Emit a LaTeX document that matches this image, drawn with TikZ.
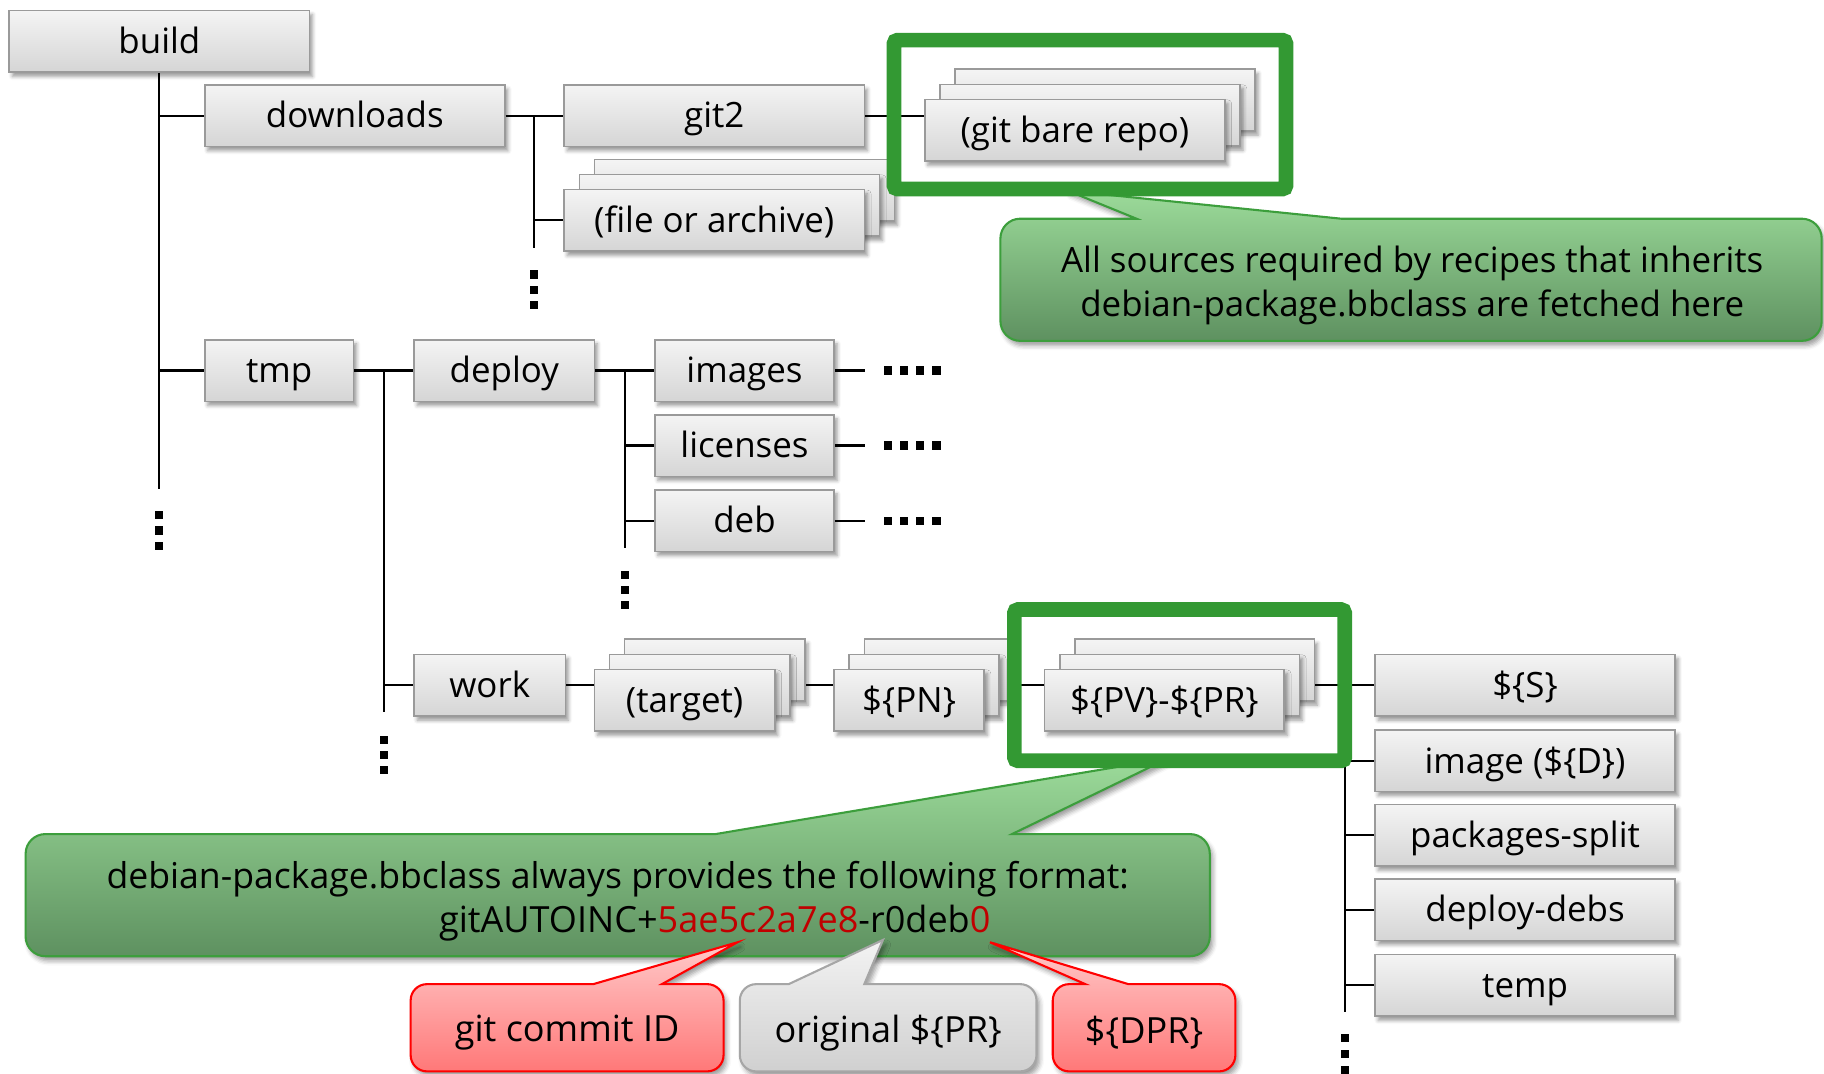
\documentclass[tikz,border=0pt]{standalone}
\usepackage{fontspec}
\setmainfont{Open Sans}
\usetikzlibrary{shadows.blur}

\definecolor{boxtop}{HTML}{F4F4F4}
\definecolor{boxbot}{HTML}{D5D5D5}
\definecolor{boxedge}{HTML}{9A9A9A}
\definecolor{framegreen}{HTML}{339933}
\definecolor{calltop}{HTML}{9CDB9A}
\definecolor{callbot}{HTML}{5E9160}
\definecolor{calledge}{HTML}{3C9E3C}
\definecolor{redtop}{HTML}{FFCACA}
\definecolor{redbot}{HTML}{FF7878}
\definecolor{rededge}{HTML}{FF0000}
\definecolor{graytop}{HTML}{F3F3F3}
\definecolor{graybot}{HTML}{D0D0D0}
\definecolor{grayedge}{HTML}{A6A6A6}
\definecolor{hexred}{HTML}{C00000}

% Rounded speech bubble with its pointer on the top edge:
% #1,#2 top-left, #3,#4 bottom-right, #5 corner radius,
% #6,#7 pointer base on the top edge, #8,#9 pointer tip.
\newcommand{\bubblepath}[9]{%
  (#6,#2) -- (#8,#9) -- (#7,#2) -- ({#3-#5},#2)
  arc[start angle=90,end angle=0,radius=#5*0.5pt] -- (#3,{#4-#5})
  arc[start angle=0,end angle=-90,radius=#5*0.5pt] -- ({#1+#5},#4)
  arc[start angle=-90,end angle=-180,radius=#5*0.5pt] -- (#1,{#2+#5})
  arc[start angle=180,end angle=90,radius=#5*0.5pt] -- cycle}

\newcommand{\dotsquare}[2]{\fill ({#1-3.5},{#2-3.5}) rectangle ({#1+3.5},{#2+3.5});}

\begin{document}
\begin{tikzpicture}[x=0.5pt,y=-0.5pt,
  dirbox/.style={draw=boxedge, line width=0.7pt, top color=boxtop, bottom color=boxbot,
    minimum height=26.5pt, inner sep=0pt, text height=14pt, text depth=3.5pt,
    font=\fontsize{15}{18}\selectfont,
    blur shadow={shadow xshift=1.3pt, shadow yshift=-1.8pt, shadow blur radius=1.6pt, shadow opacity=40}},
  link/.style={line width=0.9pt, black},
  frame/.style={draw=framegreen, line width=6.3pt, rounded corners=1.5pt},
  bubble/.style={line width=0.9pt,
    blur shadow={shadow xshift=1.3pt, shadow yshift=-2pt, shadow blur radius=2pt, shadow opacity=40}},
  greencall/.style={bubble, draw=calledge, top color=calltop, bottom color=callbot},
  redcall/.style={bubble, draw=rededge, top color=redtop, bottom color=redbot},
  graycall/.style={bubble, draw=grayedge, top color=graytop, bottom color=graybot},
  note/.style={font=\fontsize{15}{19}\selectfont, align=center, inner sep=0pt},
]
\useasboundingbox (0,0) rectangle (1568,923);

% ---- directory boxes ----
\node[dirbox, minimum width=129pt] (build) at (137,35.5) {build};
\node[dirbox, minimum width=129pt] (downloads) at (305,99.5) {downloads};
\node[dirbox, minimum width=129pt] (git2) at (614,99.5) {git2};
\node[dirbox, minimum width=129pt] (file3) at (640,163.5) {};
\node[dirbox, minimum width=129pt] (file2) at (627,176.5) {};
\node[dirbox, minimum width=129pt] (file) at (614,189.5) {(file or archive)};
\node[dirbox, minimum width=129pt] (bare3) at (950,86) {};
\node[dirbox, minimum width=129pt] (bare2) at (937,99) {};
\node[dirbox, minimum width=129pt] (bare) at (924,112) {(git bare repo)};

\node[dirbox, minimum width=64pt] (tmp) at (240,318.5) {tmp};
\node[dirbox, minimum width=77.5pt] (deploy) at (433.5,318.5) {deploy};
\node[dirbox, minimum width=77pt] (images) at (640,318.5) {images};
\node[dirbox, minimum width=77pt] (licenses) at (640,383) {licenses};
\node[dirbox, minimum width=77pt] (deb) at (640,447.5) {deb};

\node[dirbox, minimum width=65pt] (work) at (421,589) {work};
\node[dirbox, minimum width=77.5pt] (target3) at (614.5,576) {};
\node[dirbox, minimum width=77.5pt] (target2) at (601.5,589) {};
\node[dirbox, minimum width=77.5pt] (target) at (588.5,602) {(target)};
\node[dirbox, minimum width=64.5pt] (pn3) at (807.5,576) {};
\node[dirbox, minimum width=64.5pt] (pn2) at (794.5,589) {};
\node[dirbox, minimum width=64.5pt] (pn) at (781.5,602) {\$\{PN\}};
\node[dirbox, minimum width=103pt] (pvpr3) at (1027,576) {};
\node[dirbox, minimum width=103pt] (pvpr2) at (1014,589) {};
\node[dirbox, minimum width=103pt] (pvpr) at (1001,602) {\$\{PV\}-\$\{PR\}};

\node[dirbox, minimum width=129pt] (s) at (1311,589) {\$\{S\}};
\node[dirbox, minimum width=129pt] (imgd) at (1311,654) {image (\$\{D\})};
\node[dirbox, minimum width=129pt] (pksplit) at (1311,718) {packages-split};
\node[dirbox, minimum width=129pt] (ddebs) at (1311,782) {deploy-debs};
\node[dirbox, minimum width=129pt] (temp) at (1311,847) {temp};

% ---- tree connectors, border to border ----
\coordinate (buildEnd) at (137,420);
\draw[link] (build.south) -- (buildEnd);
\draw[link] (build.south |- downloads.west) -- (downloads.west);
\draw[link] (build.south |- tmp.west) -- (tmp.west);

\draw[link] (downloads.east) -- (git2.west);
\coordinate (dlEnd) at (459,213);
\draw[link] (dlEnd |- downloads.east) -- (dlEnd);
\draw[link] (dlEnd |- file.west) -- (file.west);
\draw[link] (git2.east) -- (git2.east -| bare.west);

\draw[link] (tmp.east) -- (deploy.west);
\coordinate (tmpEnd) at (330,612);
\draw[link] (tmpEnd |- tmp.east) -- (tmpEnd);
\draw[link] (tmpEnd |- work.west) -- (work.west);

\draw[link] (deploy.east) -- (images.west);
\coordinate (depEnd) at (537,471);
\draw[link] (depEnd |- deploy.east) -- (depEnd);
\draw[link] (depEnd |- licenses.west) -- (licenses.west);
\draw[link] (depEnd |- deb.west) -- (deb.west);

\coordinate (imagesMore) at (744,318.5);
\coordinate (licensesMore) at (744,383);
\coordinate (debMore) at (744,447.5);
\draw[link] (images.east) -- (imagesMore);
\draw[link] (licenses.east) -- (licensesMore);
\draw[link] (deb.east) -- (debMore);

\draw[link] (work.east) -- (work.east -| target.west);
\draw[link] (target3.east |- work.east) -- (work.east -| pn.west);
\draw[link] (pn3.east |- work.east) -- (work.east -| pvpr.west);
\draw[link] (pvpr3.east |- s.west) -- (s.west);

\coordinate (rEnd) at (1156,870);
\draw[link] (rEnd |- s.west) -- (rEnd);
\draw[link] (rEnd |- imgd.west) -- (imgd.west);
\draw[link] (rEnd |- pksplit.west) -- (pksplit.west);
\draw[link] (rEnd |- ddebs.west) -- (ddebs.west);
\draw[link] (rEnd |- temp.west) -- (temp.west);

% ---- continuation marks ----
\foreach \yy in {443,456,469} {\dotsquare{137}{\yy}}
\foreach \yy in {236,249,262} {\dotsquare{459}{\yy}}
\foreach \yy in {494,507,520} {\dotsquare{537}{\yy}}
\foreach \yy in {636,649,662} {\dotsquare{330}{\yy}}
\foreach \yy in {892,906,920} {\dotsquare{1156}{\yy}}
\foreach \yy in {318.5,383,447.5} {
  \foreach \xx in {763,777,791,805} {\dotsquare{\xx}{\yy}}
}

% ---- notes ----
\draw[greencall] \bubblepath{860}{188}{1566}{293}{17}{977}{1153}{918}{164};
\node[note] (srcnote) at (1214,245.5)
  {All sources required by recipes that inherits\\debian-package.bbclass are fetched here};

\draw[greencall] \bubblepath{22}{717}{1040}{822}{17}{615}{870}{1004}{652};
\node[note, anchor=base, font=\fontsize{15.3}{19}\selectfont] (fmtnote) at (531,764)
  {debian-package.bbclass always provides the following format:};
\node[note, anchor=base west, font=\fontsize{15.5}{19}\selectfont] (fmtline) at (377,802)
  {gitAUTOINC+\textcolor{hexred}{5ae5c2a7e8}-r0deb\textcolor{hexred}{0}};

\draw[redcall] \bubblepath{353}{846}{622}{921}{14}{510}{569}{634}{810};
\node[note, font=\fontsize{15.5}{19}\selectfont] (commitid) at (487.5,888) {git commit ID};
\draw[graycall] \bubblepath{636}{846}{891}{921}{14}{678}{743}{759}{808};
\node[note, font=\fontsize{15.5}{19}\selectfont] (origpr) at (763.5,888) {original \$\{PR\}};
\draw[redcall] \bubblepath{905}{846}{1062}{921}{14}{933}{970}{851}{810};
\node[note, font=\fontsize{15.5}{19}\selectfont] (dpr) at (983.5,888) {\$\{DPR\}};

% ---- highlight frames ----
\draw[frame] (768.5,34.5) rectangle (1105.5,162.5);
\draw[frame] (872,524) rectangle (1156,654);
\end{tikzpicture}
\end{document}
